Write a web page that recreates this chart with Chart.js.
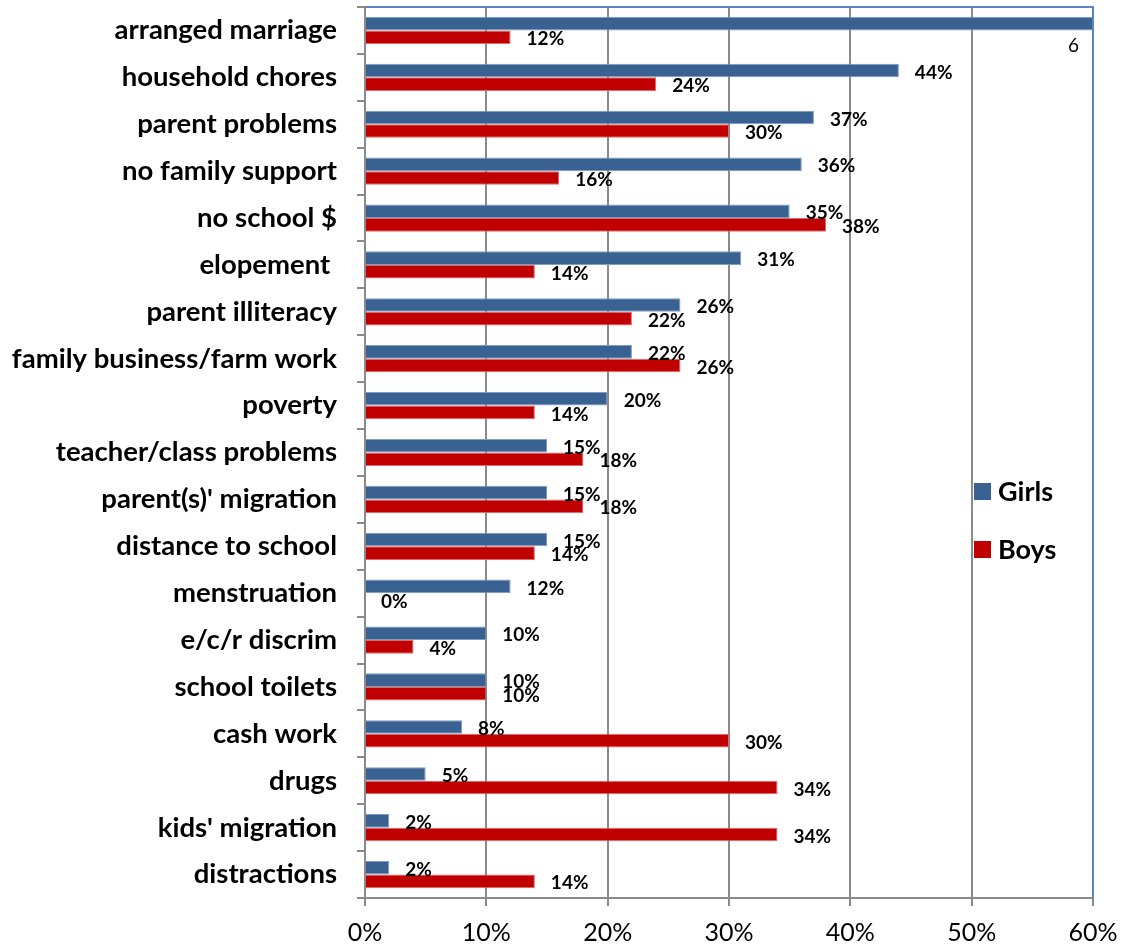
<!DOCTYPE html>
<html>
<head>
<meta charset="utf-8">
<script src="https://cdn.jsdelivr.net/npm/chart.js@4.4.0/dist/chart.umd.min.js"></script>
<style>
  html, body { margin: 0; padding: 0; background: #fff; }
</style>
</head>
<body>
<canvas id="chart" width="1122" height="948"></canvas>
<script>
// Reasons for leaving school, share of respondents by gender
const categories = [
    'arranged marriage', 'household chores', 'parent problems', 'no family support',
    'no school $', 'elopement ', 'parent illiteracy', 'family business/farm work',
    'poverty', 'teacher/class problems', "parent(s)' migration", 'distance to school',
    'menstruation', 'e/c/r discrim', 'school toilets', 'cash work', 'drugs',
    "kids' migration", 'distractions'
];
const girls = [66, 44, 37, 36, 35, 31, 26, 22, 20, 15, 15, 15, 12, 10, 10, 8, 5, 2, 2];
const boys  = [12, 24, 30, 16, 38, 14, 22, 26, 14, 18, 18, 14, 0, 4, 10, 30, 34, 34, 14];
const xTicks = [0, 10, 20, 30, 40, 50, 60];

const BLUE = '#396192';
const RED = '#C00000';
const GRID = '#8a8a8a';
const FONT = 'Lato, Carlito, Calibri, sans-serif';

// value labels next to the bar ends
const valueLabels = {
    id: 'valueLabels',
    afterDatasetsDraw(chart) {
        const ctx = chart.ctx;
        const area = chart.chartArea;
        const max = chart.scales.x.max;
        chart.data.datasets.forEach((ds, di) => {
            const meta = chart.getDatasetMeta(di);
            meta.data.forEach((bar, i) => {
                const v = ds.data[i];
                ctx.save();
                ctx.fillStyle = '#000';
                ctx.textBaseline = 'middle';
                ctx.textAlign = 'left';
                if (v > max) {
                    // overflowing bar: label gets cut by the plot edge
                    ctx.beginPath();
                    ctx.rect(area.left, area.top, area.right - area.left - 15, area.bottom - area.top);
                    ctx.clip();
                    ctx.font = '19px ' + FONT;
                    ctx.fillText(v + '%', area.right - 25, bar.y + 22);
                } else {
                    ctx.font = 'bold 19px ' + FONT;
                    ctx.fillText(v + '%', bar.x + 16, bar.y + 2);
                }
                ctx.restore();
            });
        });
    }
};

// blue frame on top/right and the legend inside the plot
const frameAndLegend = {
    id: 'frameAndLegend',
    afterDraw(chart) {
        const ctx = chart.ctx;
        const a = chart.chartArea;
        ctx.save();
        ctx.strokeStyle = '#5a86c0';
        ctx.lineWidth = 2;
        ctx.beginPath();
        ctx.moveTo(a.left, a.top);
        ctx.lineTo(a.right, a.top);
        ctx.lineTo(a.right, a.bottom);
        ctx.stroke();

        const midY = (a.top + a.bottom) / 2;
        const items = [
            { text: 'Girls', color: BLUE, y: midY + 39 },
            { text: 'Boys', color: RED, y: midY + 97 }
        ];
        const x0 = a.right - 119;
        ctx.font = 'bold 27px ' + FONT;
        ctx.textBaseline = 'middle';
        ctx.textAlign = 'left';
        items.forEach(it => {
            ctx.fillStyle = it.color;
            ctx.fillRect(x0, it.y - 8.5, 17, 17);
            ctx.fillStyle = '#000';
            ctx.fillText(it.text, x0 + 24, it.y + 1);
        });
        ctx.restore();
    }
};

new Chart(document.getElementById('chart').getContext('2d'), {
    type: 'bar',
    data: {
        labels: categories,
        datasets: [
            {
                label: 'Girls',
                data: girls,
                backgroundColor: BLUE,
                borderColor: '#7f9bc2',
                borderWidth: 1,
                categoryPercentage: 0.58,
                barPercentage: 1.0
            },
            {
                label: 'Boys',
                data: boys,
                backgroundColor: RED,
                borderColor: '#e06a6a',
                borderWidth: 1,
                categoryPercentage: 0.58,
                barPercentage: 1.0
            }
        ]
    },
    options: {
        indexAxis: 'y',
        responsive: false,
        animation: false,
        layout: { padding: { top: 7, right: 29, left: 0, bottom: 0 } },
        plugins: {
            legend: { display: false },
            tooltip: { enabled: false }
        },
        scales: {
            x: {
                min: 0,
                max: 60,
                afterBuildTicks: scale => {
                    scale.ticks = xTicks.map(v => ({ value: v }));
                },
                afterFit: scale => {
                    scale.height = 50;
                    scale.paddingLeft = 0;
                    scale.paddingRight = 0;
                },
                ticks: {
                    callback: v => v + '%',
                    color: '#000',
                    font: { family: FONT, size: 25 },
                    padding: 12,
                    maxRotation: 0
                },
                grid: {
                    color: GRID,
                    lineWidth: 2,
                    tickLength: 8
                },
                border: { color: GRID, width: 2 }
            },
            y: {
                afterFit: scale => {
                    scale.width = 365;
                    scale.paddingTop = 0;
                    scale.paddingBottom = 0;
                },
                ticks: {
                    color: '#000',
                    font: { family: FONT, size: 27.5, weight: 'bold' },
                    padding: 20
                },
                grid: {
                    drawOnChartArea: false,
                    color: GRID,
                    lineWidth: 2,
                    tickLength: 8
                },
                border: { color: GRID, width: 2 }
            }
        }
    },
    plugins: [valueLabels, frameAndLegend]
});
</script>
</body>
</html>
